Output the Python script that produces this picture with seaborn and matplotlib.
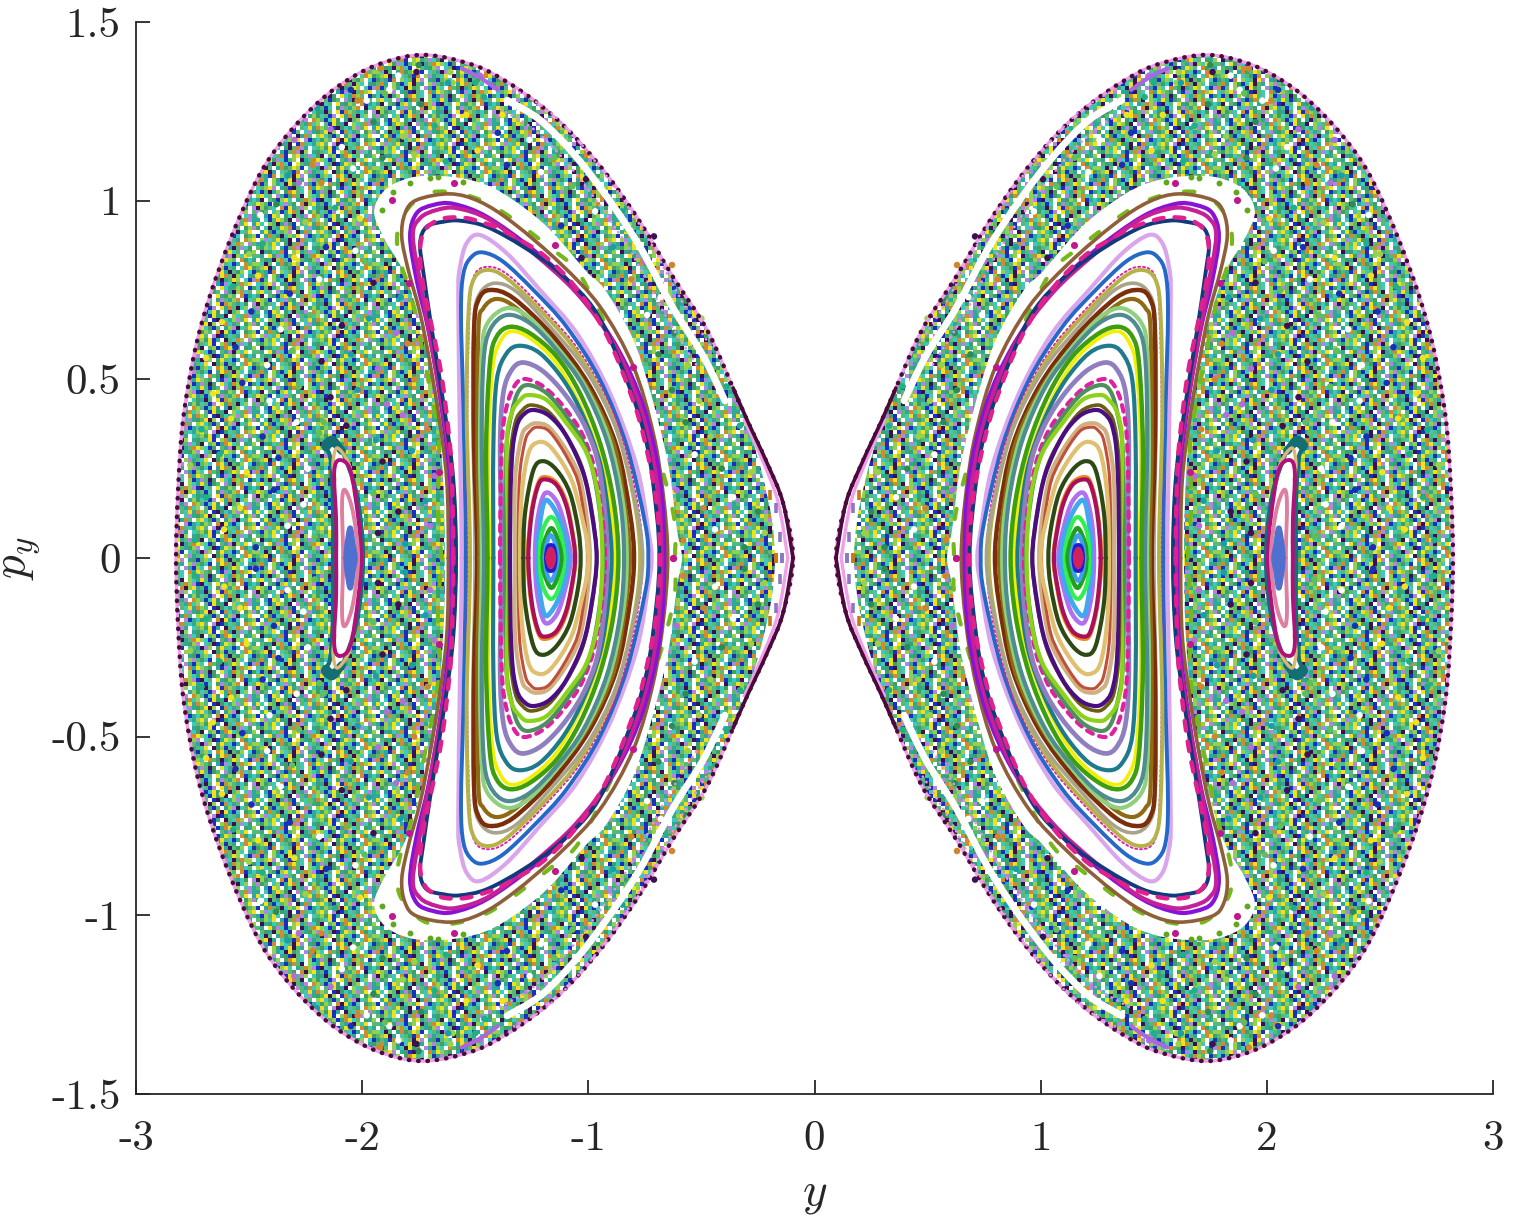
import numpy as np
import pandas as pd
import seaborn as sns
import matplotlib
matplotlib.use("Agg")
import matplotlib.pyplot as plt
from matplotlib.colors import to_rgb
from matplotlib.patches import PathPatch
from matplotlib.path import Path

# all curves are upper halves of the left lobe
# the plot is mirrored in y and in p_y for the other three quadrants

outer_y = [-0.095, -0.139, -0.210, -0.298, -0.360, -0.475, -0.626, -0.771, -0.917, -1.068, -1.214, -1.359, -1.510,
           -1.731, -1.934, -2.111, -2.261, -2.394, -2.482, -2.584, -2.672, -2.739, -2.792, -2.814, -2.823]
outer_p = [0, 0.154, 0.266, 0.386, 0.476, 0.638, 0.787, 0.940, 1.072, 1.184, 1.268, 1.332, 1.380,
           1.408, 1.380, 1.318, 1.234, 1.133, 1.038, 0.890, 0.736, 0.582, 0.386, 0.190, 0]
tip_y = [-0.095, -0.139, -0.210, -0.298, -0.360]
tip_p = [0, 0.154, 0.266, 0.386, 0.476]
tip_pink_y = [-0.118, -0.160, -0.225, -0.310]
tip_pink_p = [0, 0.154, 0.266, 0.386]

island_y = [-1.634, -1.642, -1.673, -1.735, -1.810, -1.899, -1.947, -1.899, -1.788, -1.656,
            -1.523, -1.404, -1.271, -1.156, -1.006, -0.926, -0.807, -0.728, -0.648, -0.608, -0.586]
island_p = [0, 0.218, 0.442, 0.638, 0.792, 0.890, 0.968, 1.030, 1.064, 1.069,
            1.058, 1.030, 0.974, 0.910, 0.800, 0.750, 0.619, 0.470, 0.266, 0.078, 0]

band_y = [-1.359, -1.214, -1.068, -0.917, -0.771, -0.626, -0.492, -0.396]
band_p = [1.281, 1.226, 1.133, 1.010, 0.870, 0.700, 0.565, 0.440]
band_low_y = [-1.389, -1.244, -1.098, -0.947, -0.801, -0.656, -0.522]
band_low_p = [1.256, 1.201, 1.108, 0.985, 0.845, 0.675, 0.540]
band_high_y = [-1.329, -1.184, -1.038, -0.887, -0.741, -0.596, -0.462]
band_high_p = [1.311, 1.256, 1.163, 1.040, 0.900, 0.730, 0.595]
streak_y = [-1.56, -1.48, -1.40]
streak_p = [1.37, 1.345, 1.31]
gap_y = [-0.175, -0.188, -0.228, -0.270, -0.210, -0.139, -0.095]
gap_p = [0, 0.106, 0.227, 0.330, 0.266, 0.154, 0]

chain_y = [-1.651, -1.665, -1.660, -1.691, -1.779, -1.824, -1.846, -1.819, -1.691, -1.448, -1.156, -1.037, -0.891, -0.771, -0.630, -0.617]
chain_p = [0, 0.143, 0.316, 0.442, 0.722, 0.814, 0.890, 0.960, 1.024, 0.994, 0.862, 0.792, 0.610, 0.442, 0.143, 0]

brown_y = [-1.619, -1.626, -1.663, -1.700, -1.744, -1.796, -1.825, -1.810, -1.759, -1.611, -1.479, -1.331, -1.125, -0.948, -0.801, -0.713, -0.668, -0.649]
brown_p = [0, 0.218, 0.405, 0.545, 0.685, 0.806, 0.899, 0.965, 1.002, 1.019, 0.997, 0.937, 0.825, 0.703, 0.536, 0.349, 0.172, 0]
purple_y = [-1.604, -1.611, -1.656, -1.707, -1.759, -1.788, -1.759, -1.685, -1.597, -1.449, -1.243, -1.051, -0.875, -0.757, -0.683, -0.664]
purple_p = [0, 0.218, 0.452, 0.638, 0.778, 0.899, 0.965, 0.988, 0.991, 0.955, 0.862, 0.750, 0.591, 0.424, 0.218, 0]
magenta_y = [-1.597, -1.604, -1.641, -1.692, -1.737, -1.776, -1.744, -1.670, -1.582, -1.435, -1.243, -1.051, -0.889, -0.771, -0.698, -0.676]
magenta_p = [0, 0.218, 0.405, 0.591, 0.750, 0.899, 0.951, 0.974, 0.979, 0.946, 0.853, 0.741, 0.601, 0.424, 0.218, 0]
navy_y = [-1.585, -1.597, -1.634, -1.692, -1.729, -1.744, -1.715, -1.641, -1.567, -1.449, -1.287, -1.125, -0.963, -0.830, -0.742, -0.698, -0.686]
navy_p = [0, 0.218, 0.405, 0.638, 0.797, 0.881, 0.927, 0.941, 0.944, 0.927, 0.871, 0.797, 0.685, 0.498, 0.321, 0.125, 0]
hot_y = [-1.597, -1.604, -1.619, -1.656, -1.729, -1.744, -1.722, -1.663, -1.604, -1.538, -1.479, -1.405, -1.317, -1.199, -1.059, -0.919, -0.793, -0.735, -0.698, -0.683]
hot_p = [0, 0.237, 0.358, 0.536, 0.759, 0.862, 0.918, 0.946, 0.953, 0.951, 0.941, 0.925, 0.895, 0.848, 0.759, 0.624, 0.424, 0.284, 0.153, 0]
lilac_y = [-1.560, -1.567, -1.575, -1.567, -1.538, -1.479, -1.361, -1.214, -1.051, -0.904, -0.786, -0.735, -0.720]
lilac_p = [0, 0.312, 0.731, 0.815, 0.881, 0.904, 0.853, 0.750, 0.629, 0.461, 0.256, 0.078, 0]
blue_y = [-1.542, -1.552, -1.563, -1.552, -1.516, -1.464, -1.376, -1.243, -1.096, -0.948, -0.830, -0.749, -0.735]
blue_p = [0, 0.405, 0.685, 0.797, 0.843, 0.855, 0.829, 0.750, 0.647, 0.498, 0.312, 0.097, 0]
olive_y = [-1.523, -1.538, -1.530, -1.508, -1.449, -1.361, -1.199, -1.037, -0.889, -0.801, -0.771]
olive_p = [0, 0.405, 0.685, 0.778, 0.806, 0.783, 0.685, 0.564, 0.386, 0.172, 0]
thin_y = [-1.533, -1.535, -1.525, -1.505, -1.442, -1.350, -1.190, -1.030, -0.880, -0.790, -0.760]
thin_p = [0, 0.410, 0.690, 0.790, 0.815, 0.790, 0.690, 0.570, 0.390, 0.180, 0]
stone_y = [-1.501, -1.511, -1.505, -1.479, -1.413, -1.317, -1.169, -1.007, -0.875, -0.794, -0.760]
stone_p = [0, 0.405, 0.666, 0.741, 0.769, 0.745, 0.647, 0.522, 0.358, 0.162, 0]
umber_y = [-1.491, -1.505, -1.505, -1.486, -1.435, -1.331, -1.155, -0.993, -0.875, -0.816, -0.798]
umber_p = [0, 0.312, 0.638, 0.722, 0.750, 0.727, 0.620, 0.480, 0.312, 0.125, 0]
golden_y = [-1.482, -1.491, -1.486, -1.464, -1.405, -1.317, -1.155, -1.007, -0.889, -0.838, -0.816]
golden_p = [0, 0.312, 0.638, 0.699, 0.725, 0.699, 0.601, 0.480, 0.321, 0.144, 0]
sage_y = [-1.471, -1.479, -1.471, -1.446, -1.361, -1.265, -1.147, -1.022, -0.912, -0.848, -0.830]
sage_p = [0, 0.312, 0.573, 0.657, 0.699, 0.675, 0.596, 0.489, 0.340, 0.158, 0]
slate_y = [-1.461, -1.471, -1.464, -1.435, -1.361, -1.258, -1.140, -1.022, -0.919, -0.860, -0.842]
slate_p = [0, 0.312, 0.545, 0.638, 0.680, 0.657, 0.582, 0.480, 0.330, 0.162, 0]
green_y = [-1.446, -1.452, -1.435, -1.405, -1.346, -1.258, -1.140, -1.037, -0.948, -0.889, -0.867]
green_p = [0, 0.312, 0.545, 0.620, 0.647, 0.629, 0.564, 0.461, 0.321, 0.162, 0]
yellow_y = [-1.437, -1.442, -1.423, -1.393, -1.343, -1.258, -1.147, -1.051, -0.963, -0.904, -0.882]
yellow_p = [0, 0.312, 0.531, 0.601, 0.634, 0.615, 0.550, 0.447, 0.312, 0.158, 0]
teal_y = [-1.420, -1.420, -1.405, -1.361, -1.302, -1.214, -1.110, -1.022, -0.948, -0.912, -0.897]
teal_p = [0, 0.312, 0.498, 0.573, 0.594, 0.573, 0.498, 0.396, 0.265, 0.125, 0]
mauve_y = [-1.383, -1.390, -1.376, -1.339, -1.287, -1.199, -1.096, -1.007, -0.948, -0.916]
mauve_p = [0, 0.312, 0.461, 0.526, 0.547, 0.522, 0.452, 0.358, 0.237, 0]
pinkdash_y = [-1.390, -1.383, -1.361, -1.324, -1.280, -1.199, -1.110, -1.022, -0.963, -0.926]
pinkdash_p = [0, 0.312, 0.424, 0.484, 0.501, 0.480, 0.424, 0.340, 0.218, 0]
fern_y = [-1.368, -1.364, -1.339, -1.309, -1.265, -1.184, -1.096, -1.015, -0.963, -0.934]
fern_p = [0, 0.293, 0.405, 0.466, 0.484, 0.461, 0.396, 0.312, 0.190, 0]
lime_y = [-1.354, -1.361, -1.339, -1.302, -1.265, -1.184, -1.096, -1.007, -0.956, -0.938]
lime_p = [0, 0.312, 0.405, 0.442, 0.456, 0.442, 0.377, 0.293, 0.172, 0]
moss_y = [-1.349, -1.346, -1.324, -1.291, -1.250, -1.177, -1.103, -1.029, -0.985, -0.963]
moss_p = [0, 0.265, 0.377, 0.414, 0.428, 0.410, 0.349, 0.256, 0.134, 0]
indigo_y = [-1.346, -1.339, -1.317, -1.280, -1.236, -1.169, -1.096, -1.022, -0.985, -0.963]
indigo_p = [0, 0.265, 0.368, 0.405, 0.414, 0.396, 0.340, 0.237, 0.125, 0]
tan_y = [-1.324, -1.324, -1.295, -1.265, -1.228, -1.169, -1.081, -1.029, -0.993]
tan_p = [0, 0.218, 0.340, 0.368, 0.377, 0.363, 0.284, 0.200, 0]
rust_y = [-1.309, -1.305, -1.280, -1.255, -1.225, -1.169, -1.088, -1.037, -1.004]
rust_p = [0, 0.218, 0.326, 0.356, 0.366, 0.352, 0.274, 0.190, 0]
gold_y = [-1.302, -1.295, -1.265, -1.221, -1.169, -1.096, -1.051, -1.000]
gold_p = [0, 0.172, 0.293, 0.324, 0.312, 0.246, 0.172, 0]
forest_y = [-1.287, -1.280, -1.243, -1.199, -1.140, -1.081, -1.044, -1.034]
forest_p = [0, 0.125, 0.246, 0.271, 0.246, 0.181, 0.078, 0]
orange_y = [-1.270, -1.255, -1.224, -1.192, -1.137, -1.092, -1.062, -1.055]
orange_p = [0, 0.125, 0.210, 0.228, 0.210, 0.150, 0.050, 0]
crimson_y = [-1.265, -1.250, -1.221, -1.192, -1.140, -1.096, -1.066, -1.059]
crimson_p = [0, 0.125, 0.204, 0.220, 0.204, 0.144, 0.050, 0]
violet_y = [-1.236, -1.225, -1.192, -1.140, -1.103, -1.078]
violet_p = [0, 0.106, 0.181, 0.158, 0.088, 0]
sky_y = [-1.225, -1.216, -1.192, -1.152, -1.110, -1.088]
sky_p = [0, 0.088, 0.160, 0.139, 0.078, 0]
spring_y = [-1.214, -1.206, -1.169, -1.133, -1.106]
spring_p = [0, 0.069, 0.114, 0.088, 0]
leaf_y = [-1.202, -1.196, -1.166, -1.140, -1.119]
leaf_p = [0, 0.041, 0.083, 0.060, 0]
azure_y = [-1.193, -1.184, -1.166, -1.147, -1.135]
azure_p = [0, 0.041, 0.064, 0.041, 0]
core_y = [-1.187, -1.180, -1.166, -1.152, -1.145]
core_p = [0, 0.030, 0.036, 0.030, 0]
heart_y = [-1.176, -1.166, -1.156]
heart_p = [0, 0.022, 0]

# small crescent island
cres_teal_y = [-2.129, -2.129, -2.142, -2.173, -2.129, -2.084, -2.022, -1.996]
cres_teal_p = [0, 0.154, 0.283, 0.316, 0.336, 0.294, 0.171, 0]
cres_cap_y = [-2.16, -2.13, -2.09]
cres_cap_p = [0.31, 0.325, 0.30]
cres_tan_y = [-2.120, -2.129, -2.111, -2.062, -2.045]
cres_tan_p = [0.218, 0.266, 0.308, 0.269, 0.218]
cres_red_y = [-2.115, -2.115, -2.124, -2.102, -2.053, -2.018, -2.005]
cres_red_p = [0, 0.106, 0.238, 0.274, 0.246, 0.115, 0]
cres_pink_y = [-2.084, -2.089, -2.075, -2.040, -2.018]
cres_pink_p = [0, 0.154, 0.190, 0.126, 0]
cres_blue_y = [-2.071, -2.067, -2.053, -2.040, -2.031]
cres_blue_p = [0, 0.036, 0.084, 0.036, 0]

# short dashes near the tip, lone dots in the white gap
tip_orange_y = [-0.197, -0.170]
tip_orange_p = [0.176, 0]
tip_purple_y = [-0.170, -0.153, -0.144]
tip_purple_p = [0.140, 0.059, 0]
lone_red_y = [-1.660, -1.793, -1.868, -1.594, -1.147, -0.802, -0.626]
lone_red_p = [0.241, 0.770, 1.002, 1.050, 0.876, 0.535, 0]
lone_green_y = [-1.912, -1.863, -1.788, -1.700, -1.665, -1.554]
lone_green_p = [0.974, 1.024, 1.050, 1.064, 1.066, 1.052]

# The chaotic sea holds far too many dots to read one by one. These are a sample,
# on top of a hand typed speckle tile that only stands in for the rest of them.
sea_y = [-2.74, -2.61, -2.47, -2.33, -2.21, -1.93, -1.81, -1.70, -0.58, -0.44, -0.31, -0.22,
         -2.69, -2.54, -2.39, -2.26, -1.95, -1.84, -1.72, -0.61, -0.49, -0.36, -0.25,
         -2.76, -2.63, -2.51, -2.37, -2.24, -2.17, -1.91, -1.78, -1.68, -0.66, -0.53, -0.41, -0.28,
         -2.71, -2.58, -2.44, -2.29, -2.19, -2.07, -1.94, -1.82, -1.71, -0.71, -0.57, -0.46, -0.33,
         -2.66, -2.53, -2.41, -2.28, -2.14, -2.02, -1.89, -1.77, -0.76, -0.63, -0.51, -0.39,
         -2.69, -2.56, -2.42, -2.31, -2.18, -2.05, -1.93, -1.80, -0.82, -0.69, -0.56, -0.44,
         -2.62, -2.49, -2.36, -2.23, -2.09, -1.97, -1.85, -0.88, -0.74, -0.62, -0.50,
         -2.57, -2.46, -2.32, -2.19, -2.06, -1.95, -1.83, -0.94, -0.81, -0.68, -0.57,
         -2.50, -2.44, -2.30, -2.16, -2.03, -1.99, -1.03, -0.89, -0.75, -0.63,
         -2.45, -2.38, -2.25, -2.12, -2.01, -1.12, -0.97, -0.83, -0.71,
         -2.33, -2.28, -2.18, -2.04, -1.91, -1.77, -1.63, -1.49, -1.36, -1.21, -1.07, -0.92, -0.85,
         -2.30, -2.22, -2.09, -1.95, -1.82, -1.68, -1.54, -1.40, -1.26, -1.15, -1.01,
         -2.20, -2.14, -2.02, -1.88, -1.74, -1.60, -1.46, -1.38,
         -2.05, -1.98, -1.90, -1.76, -1.62, -1.48,
         -1.92, -1.84, -1.75, -1.61, -1.50]
sea_p = [0.05, 0.08, 0.03, 0.09, 0.06, 0.07, 0.04, 0.09, 0.05, 0.08, 0.03, 0.07,
         0.17, 0.14, 0.19, 0.15, 0.18, 0.13, 0.16, 0.19, 0.14, 0.17, 0.13,
         0.26, 0.29, 0.24, 0.28, 0.25, 0.38, 0.27, 0.30, 0.23, 0.26, 0.29, 0.25, 0.24,
         0.36, 0.39, 0.34, 0.38, 0.35, 0.37, 0.33, 0.40, 0.36, 0.33, 0.38, 0.34, 0.37,
         0.46, 0.49, 0.44, 0.48, 0.45, 0.47, 0.43, 0.50, 0.43, 0.47, 0.44, 0.48,
         0.56, 0.59, 0.54, 0.58, 0.55, 0.57, 0.53, 0.60, 0.53, 0.57, 0.54, 0.58,
         0.66, 0.69, 0.64, 0.68, 0.65, 0.67, 0.63, 0.64, 0.68, 0.63, 0.67,
         0.76, 0.79, 0.74, 0.78, 0.75, 0.77, 0.73, 0.74, 0.78, 0.73, 0.72,
         0.85, 0.88, 0.84, 0.87, 0.86, 0.83, 0.84, 0.87, 0.83, 0.82,
         0.96, 0.99, 0.94, 0.98, 0.95, 0.93, 0.97, 0.92, 0.90,
         1.07, 1.05, 1.05, 1.09, 1.12, 1.13, 1.11, 1.14, 1.10, 1.08, 1.04, 1.01, 0.97,
         1.17, 1.10, 1.15, 1.22, 1.18, 1.21, 1.24, 1.19, 1.17, 1.12, 1.06,
         1.26, 1.20, 1.28, 1.31, 1.27, 1.33, 1.29, 1.24,
         1.31, 1.28, 1.30, 1.36, 1.33, 1.35,
         1.37, 1.35, 1.38, 1.36, 1.33]
sea_colors = ["#1fb08a", "#f2e21e", "#1a2fb8", "#ffffff", "#5fbf5a", "#3c1254",
              "#18a0a8", "#b070d8", "#d0862c", "#ffffff", "#2e8b57", "#9ad04a"]

speckle_rows = [
    "gwtbylwfsdgtvwolgbsyfwtdglwsvt", "twsbgylfdwvgtoslwgbyftdwlsgovt", "yswlgdtvfbwgsytolgwbdfstlvgywt",
    "fwsdgtylobgwsvtfgydlwbostgwflv", "wtyfbsglvwdtogwlysfbgwtlvdsgyw", "bwtogfdslgywvbtsflgwodytbswfgl",
    "wlvsgyftdwbogstlygwvdbfsgtwoly", "tblgyswfdgovtwsglfybtwdgsolwvg", "gflsywtbgovdlwtfgsybwlotdgvsfw",
    "wdtfsgobwlytgvsfdwglbtoysgwftl", "gtwyfvsbglwdtgoylsbfwgtvdlsywg", "wgftdlosbwygtflvwsgdbtylgwofst",
    "lsdgwtofgylbwsgtdvlwfygsbtwogl", "glydtwsgfbowlvtgsywdflbgtwsoyf", "fgtbowlsgdyvwtfbglswoytdgflwsb",
    "gotwlfbsydgtwlvgfsbwtyogdlswtf", "obgwltsdyfgwvtblswogfdtgylwsbv", "sglyvwtfbdgswotylgfwtbvsdgolyw",
    "sbgdtlwfoygswlbtvgdfwystolgwbf", "lysgwvtbfogdwlstygbfgwvtdlosgw", "tdwgfblyswtgolvbdsgwytflgwobts",
    "ylgbwtsvgfwodlytgbswfvgtlowdsg", "dlfgswobytgvlwsftdgwybolgtsfwv", "vfgwslbtyogdwtlfsgbvwytogdslwg",
]
speckle_letters = "gtybwdlvsof"
speckle_colors = ["#58b878", "#30a898", "#f0e020", "#1830c0", "#ffffff", "#3a1050",
                  "#93d050", "#b088d8", "#40c8b8", "#d08a30", "#3f9f68"]

x_ticks = [-3, -2, -1, 0, 1, 2, 3]
x_tick_labels = ["-3", "-2", "-1", "0", "1", "2", "3"]
y_ticks = [-1.5, -1, -0.5, 0, 0.5, 1, 1.5]
y_tick_labels = ["-1.5", "-1", "-0.5", "0", "0.5", "1", "1.5"]

# outside in: arrays, colour, line width (points), line style
SOLID = "-"
DOTS = (0, (0.1, 2.2))
curves = [
    (outer_y, outer_p, "#f0a0e8", 2.4, SOLID),
    (outer_y, outer_p, "#4a0a3c", 3.2, (0, (0.1, 2.0))),
    (tip_pink_y, tip_pink_p, "#f0a0e8", 2.4, SOLID),
    (tip_y, tip_p, "#4a0a3c", 2.6, SOLID),
    (band_low_y, band_low_p, "#e890e8", 2.0, DOTS),
    (band_high_y, band_high_p, "#e890e8", 2.0, DOTS),
    (streak_y, streak_p, "#a868e0", 3.0, SOLID),
    (chain_y, chain_p, "#76b81c", 3.0, (0, (2.5, 6))),
    (brown_y, brown_p, "#8f5f3a", 2.6, SOLID),
    (purple_y, purple_p, "#8a12d4", 3.0, SOLID),
    (magenta_y, magenta_p, "#c4209a", 3.0, SOLID),
    (navy_y, navy_p, "#0f3a7c", 2.8, SOLID),
    (hot_y, hot_p, "#e0208f", 3.2, (0, (2.2, 2.5))),
    (lilac_y, lilac_p, "#d9a6ec", 3.0, SOLID),
    (blue_y, blue_p, "#2468c8", 2.8, SOLID),
    (thin_y, thin_p, "#e520a0", 1.4, (0, (1, 1.5))),
    (olive_y, olive_p, "#b5b24a", 2.8, SOLID),
    (stone_y, stone_p, "#a9a38c", 2.6, SOLID),
    (umber_y, umber_p, "#7a2e0a", 3.2, SOLID),
    (golden_y, golden_p, "#8f6914", 3.0, SOLID),
    (sage_y, sage_p, "#8fd07f", 3.0, SOLID),
    (slate_y, slate_p, "#4f8c8f", 3.0, SOLID),
    (yellow_y, yellow_p, "#f0f000", 2.6, SOLID),
    (green_y, green_p, "#3f9e0e", 3.2, SOLID),
    (teal_y, teal_p, "#1f7a8c", 3.0, SOLID),
    (mauve_y, mauve_p, "#8f7fbf", 3.4, SOLID),
    (pinkdash_y, pinkdash_p, "#e020a0", 3.0, (0, (1.6, 1.6))),
    (fern_y, fern_p, "#4e8f5f", 3.0, SOLID),
    (lime_y, lime_p, "#8cd11a", 3.0, SOLID),
    (moss_y, moss_p, "#6b5e10", 2.6, SOLID),
    (indigo_y, indigo_p, "#4a0e82", 3.0, SOLID),
    (tan_y, tan_p, "#d0b080", 3.0, SOLID),
    (rust_y, rust_p, "#c0503a", 2.2, SOLID),
    (gold_y, gold_p, "#e0c070", 3.0, SOLID),
    (forest_y, forest_p, "#2e4a14", 3.0, SOLID),
    (orange_y, orange_p, "#f08a20", 2.2, SOLID),
    (crimson_y, crimson_p, "#a8105a", 3.0, SOLID),
    (violet_y, violet_p, "#b070f0", 3.2, SOLID),
    (sky_y, sky_p, "#40a8f0", 3.4, SOLID),
    (spring_y, spring_p, "#30f050", 3.0, SOLID),
    (leaf_y, leaf_p, "#20a020", 3.2, SOLID),
    (azure_y, azure_p, "#40a0f0", 3.0, SOLID),
    (core_y, core_p, "#2020d0", 3.0, SOLID),
    (heart_y, heart_p, "#d02060", 4.5, SOLID),
    (cres_teal_y, cres_teal_p, "#136f73", 3.0, SOLID),
    (cres_cap_y, cres_cap_p, "#136f73", 6.0, SOLID),
    (cres_tan_y, cres_tan_p, "#d8b87a", 2.4, SOLID),
    (cres_red_y, cres_red_p, "#b0107a", 2.8, SOLID),
    (cres_pink_y, cres_pink_p, "#dc7fa0", 2.8, SOLID),
    (cres_blue_y, cres_blue_p, "#5070d0", 3.8, SOLID),
]


def spline_path(y, p, loop):
    # bezier segments through the read points, nothing is added to the data
    pts = np.column_stack([y, p])
    n = len(pts)
    verts = [pts[0]]
    codes = [Path.MOVETO]
    for i in range(n if loop else n - 1):
        if loop:
            a, b, c, d = pts[(i - 1) % n], pts[i], pts[(i + 1) % n], pts[(i + 2) % n]
        else:
            a, b, c, d = pts[max(i - 1, 0)], pts[i], pts[i + 1], pts[min(i + 2, n - 1)]
        verts += [b + (c - a) / 6, c - (d - b) / 6, c]
        codes += [Path.CURVE4] * 3
    return Path(np.array(verts), codes)


def lobe_path(y, p, sx=1):
    # closed loop from an upper half which starts and ends on p_y = 0
    yy = [sx * v for v in y] + [sx * v for v in y[-2:0:-1]]
    pp = list(p) + [-v for v in p[-2:0:-1]]
    return spline_path(yy, pp, True)


def draw_curve(ax, y, p, color, lw, ls, sx):
    if p[0] == 0 and p[-1] == 0:
        paths = [lobe_path(y, p, sx)]
    else:
        paths = [spline_path([sx * v for v in y], [sp * v for v in p], False) for sp in (1, -1)]
    for path in paths:
        ax.add_patch(PathPatch(path, fc="none", ec=color, lw=lw, ls=ls, capstyle="round",
                               joinstyle="round", zorder=4))


def fill_lobe(ax, y, p, sx):
    ax.add_patch(PathPatch(lobe_path(y, p, sx), fc="white", ec="none", zorder=3))


sns.set_style("ticks")
plt.rcParams["font.family"] = ["cmr10", "DejaVu Sans"]
plt.rcParams["mathtext.fontset"] = "cm"
plt.rcParams["axes.unicode_minus"] = False
plt.rcParams["axes.formatter.use_mathtext"] = False

fig = plt.figure(figsize=(15.13, 12.25), dpi=100)
ax = fig.add_axes([136 / 1513, 1 - 1094 / 1225, (1493 - 136) / 1513, (1094 - 22) / 1225])

# speckle, clipped to both lobes
tile = np.array([[to_rgb(speckle_colors[speckle_letters.index(ch)]) for ch in row[:30]] for row in speckle_rows])
speckle = np.tile(tile, (12, 12, 1))[:268, :339]
im = ax.imshow(speckle, extent=[-3, 3, -1.5, 1.5], aspect="auto", interpolation="nearest", zorder=1)
im.set_clip_path(PathPatch(Path.make_compound_path(lobe_path(outer_y, outer_p, 1), lobe_path(outer_y, outer_p, -1)),
                           transform=ax.transData))

dots = pd.DataFrame({"y": sea_y, "p": sea_p})
dots["c"] = [i % len(sea_colors) for i in range(len(dots))]
dots_all = pd.concat([pd.DataFrame({"y": sx * dots["y"], "p": sp * dots["p"], "c": dots["c"]})
                      for sx in (1, -1) for sp in (1, -1)])
sns.scatterplot(data=dots_all, x="y", y="p", hue="c", palette=sea_colors, s=22, linewidth=0,
                legend=False, zorder=2, ax=ax)

for sx in (1, -1):
    fill_lobe(ax, island_y, island_p, sx)
    fill_lobe(ax, gap_y, gap_p, sx)
    fill_lobe(ax, cres_teal_y, cres_teal_p, sx)
    for sp in (1, -1):
        ax.add_patch(PathPatch(spline_path([sx * v for v in band_y], [sp * v for v in band_p], False),
                               fc="none", ec="white", lw=5, capstyle="round", zorder=3))

for c in curves:
    for sx in (1, -1):
        draw_curve(ax, *c, sx)

for sx in (1, -1):
    ax.add_patch(PathPatch(lobe_path(cres_blue_y, cres_blue_p, sx), fc="#5070d0", ec="none", zorder=5))
    for sp in (1, -1):
        sns.scatterplot(x=[sx * v for v in tip_orange_y], y=[sp * v for v in tip_orange_p], marker="|",
                        s=60, color="#c87a10", linewidth=2.6, zorder=5, legend=False, ax=ax)
        sns.scatterplot(x=[sx * v for v in tip_purple_y], y=[sp * v for v in tip_purple_p], marker="|",
                        s=60, color="#8a78c0", linewidth=2.6, zorder=5, legend=False, ax=ax)
        sns.scatterplot(x=[sx * v for v in lone_red_y], y=[sp * v for v in lone_red_p],
                        s=26, color="#c0188c", linewidth=0, zorder=5, legend=False, ax=ax)
        sns.scatterplot(x=[sx * v for v in lone_green_y], y=[sp * v for v in lone_green_p],
                        s=18, color="#5fa81c", linewidth=0, zorder=5, legend=False, ax=ax)

ax.set_xlim(-3, 3)
ax.set_ylim(-1.5, 1.5)
ax.set_xticks(x_ticks)
ax.set_xticklabels(x_tick_labels)
ax.set_yticks(y_ticks)
ax.set_yticklabels(y_tick_labels)
ax.tick_params(direction="in", length=10, width=1.3, color="#262626", labelcolor="#262626",
               labelsize=31)
ax.tick_params(axis="x", pad=19)
ax.tick_params(axis="y", pad=11)
ax.set_xlabel("$y$", fontsize=34, color="#262626", va="center")
ax.set_ylabel("$p_y$", fontsize=34, color="#262626", va="center")
ax.xaxis.set_label_coords(0.5, -0.094)
ax.yaxis.set_label_coords(-0.084, 0.5)
for side in ("left", "bottom"):
    ax.spines[side].set_linewidth(1.3)
    ax.spines[side].set_color("#262626")
sns.despine(ax=ax)

fig.savefig("out.png", dpi=100)
